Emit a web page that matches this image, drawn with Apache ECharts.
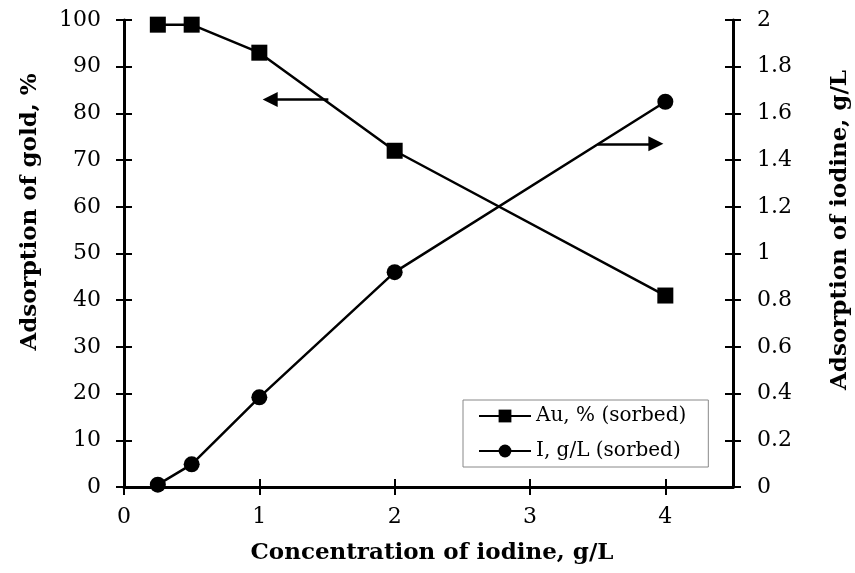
<!DOCTYPE html>
<html>
<head>
<meta charset="utf-8">
<script src="https://cdn.jsdelivr.net/npm/echarts@6/dist/echarts.min.js"></script>
<style>
  html, body { margin: 0; padding: 0; background: #fff; }
  #chart { width: 855px; height: 573px; }
</style>
</head>
<body>
<div id="chart"></div>
<script>
// Iodine concentration in solution, g/L
const concentration = [0.25, 0.5, 1, 2, 4];
// Gold adsorbed, %
const goldAdsorbed = [99, 99, 93, 72, 41];
// Iodine adsorbed, g/L
const iodineAdsorbed = [0.01, 0.097, 0.384, 0.92, 1.65];

// Arrows pointing each curve to its own axis
const goldArrow = { y: 83, from: 1.51, to: 1.08 };
const iodineArrow = { y: 1.47, from: 3.5, to: 3.93 };

const seriesNames = ['Au, % (sorbed)', 'I, g/L (sorbed)'];
const axisTitles = {
  x: 'Concentration of iodine, g/L',
  left: 'Adsorption of gold, %',
  right: 'Adsorption of iodine, g/L'
};

const FONT = 'DejaVu Serif';
const chart = echarts.init(document.getElementById('chart'), null, { renderer: 'canvas' });

const tickHalf = 8;
const baseX = {
  type: 'value', min: 0, max: 4.5, interval: 1, gridIndex: 0, position: 'bottom',
  splitLine: { show: false }
};
const baseLeft = {
  type: 'value', min: 0, max: 100, interval: 10, position: 'left',
  splitLine: { show: false }
};
const baseRight = {
  type: 'value', min: 0, max: 2, interval: 0.2, position: 'right',
  splitLine: { show: false }
};
const labelStyle = { color: '#000', fontFamily: FONT, fontSize: 22 };
const lineStyleAxis = { color: '#000', width: 3 };
const tickStyle = { color: '#000', width: 2 };

function pairs(xs, ys) { return xs.map((x, i) => [x, ys[i]]); }

chart.setOption({
  animation: false,
  backgroundColor: '#fff',
  grid: { left: 124, right: 122, top: 20, bottom: 86 },
  xAxis: [
    Object.assign({}, baseX, {
      axisLine: { show: true, onZero: false, lineStyle: lineStyleAxis },
      axisTick: { show: true, inside: false, length: tickHalf, lineStyle: tickStyle },
      axisLabel: Object.assign({ margin: 19, showMaxLabel: false }, labelStyle)
    }),
    Object.assign({}, baseX, {
      axisLine: { show: false, onZero: false },
      axisTick: { show: true, inside: true, length: tickHalf, lineStyle: tickStyle },
      axisLabel: { show: false }
    })
  ],
  yAxis: [
    Object.assign({}, baseLeft, {
      axisLine: { show: true, onZero: false, lineStyle: lineStyleAxis },
      axisTick: { show: true, inside: false, length: tickHalf, lineStyle: tickStyle },
      axisLabel: Object.assign({ margin: 23 }, labelStyle)
    }),
    Object.assign({}, baseRight, {
      axisLine: { show: true, onZero: false, lineStyle: lineStyleAxis },
      axisTick: { show: true, inside: false, length: tickHalf, lineStyle: tickStyle },
      axisLabel: Object.assign({ margin: 24, formatter: v => String(+v.toFixed(1)) }, labelStyle)
    }),
    Object.assign({}, baseLeft, {
      axisLine: { show: false, onZero: false },
      axisTick: { show: true, inside: true, length: tickHalf, lineStyle: tickStyle },
      axisLabel: { show: false }
    }),
    Object.assign({}, baseRight, {
      axisLine: { show: false, onZero: false },
      axisTick: { show: true, inside: true, length: tickHalf, lineStyle: tickStyle },
      axisLabel: { show: false }
    })
  ],
  legend: {
    orient: 'vertical',
    left: 463, top: 400,
    padding: [6, 22, 6, 15],
    itemWidth: 52, itemHeight: 16, itemGap: 15,
    borderColor: '#888', borderWidth: 1,
    backgroundColor: '#fff',
    textStyle: { color: '#000', fontFamily: FONT, fontSize: 20 },
    data: seriesNames
  },
  series: [
    {
      name: seriesNames[0], type: 'line', xAxisIndex: 0, yAxisIndex: 0,
      data: pairs(concentration, goldAdsorbed),
      symbol: 'rect', symbolSize: 16,
      lineStyle: { color: '#000', width: 2.5 },
      itemStyle: { color: '#000' },
      silent: true,
      markLine: {
        silent: true, animation: false,
        symbol: ['none', 'triangle'], symbolSize: 15,
        lineStyle: { color: '#000', width: 2.5, type: 'solid' },
        label: { show: false },
        data: [[{ coord: [goldArrow.from, goldArrow.y] }, { coord: [goldArrow.to, goldArrow.y] }]]
      }
    },
    {
      name: seriesNames[1], type: 'line', xAxisIndex: 0, yAxisIndex: 1,
      data: pairs(concentration, iodineAdsorbed),
      symbol: 'circle', symbolSize: 16,
      lineStyle: { color: '#000', width: 2.5 },
      itemStyle: { color: '#000' },
      silent: true,
      markLine: {
        silent: true, animation: false,
        symbol: ['none', 'triangle'], symbolSize: 15,
        lineStyle: { color: '#000', width: 2.5, type: 'solid' },
        label: { show: false },
        data: [[{ coord: [iodineArrow.from, iodineArrow.y] }, { coord: [iodineArrow.to, iodineArrow.y] }]]
      }
    }
  ],
  graphic: [
    {
      type: 'text', x: 432, y: 553,
      style: { text: axisTitles.x, font: 'bold 23px "' + FONT + '"', fill: '#000', align: 'center', verticalAlign: 'middle' }
    },
    {
      type: 'text', x: 30, y: 212, rotation: Math.PI / 2,
      style: { text: axisTitles.left, font: 'bold 23px "' + FONT + '"', fill: '#000', align: 'center', verticalAlign: 'middle' }
    },
    {
      type: 'text', x: 840, y: 230, rotation: Math.PI / 2,
      style: { text: axisTitles.right, font: 'bold 23px "' + FONT + '"', fill: '#000', align: 'center', verticalAlign: 'middle' }
    }
  ]
});
</script>
</body>
</html>
